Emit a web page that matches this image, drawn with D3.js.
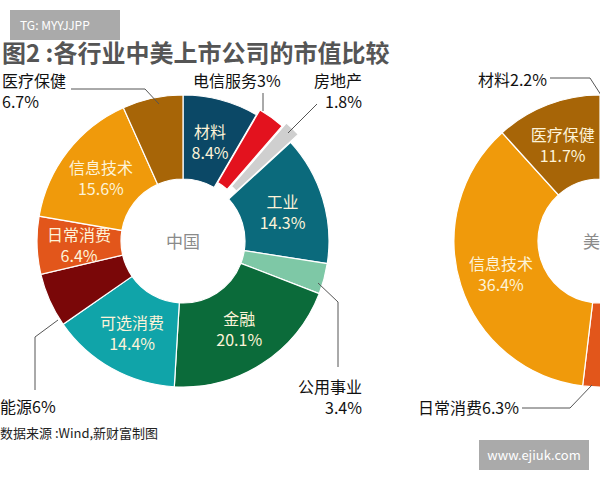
<!DOCTYPE html>
<html><head><meta charset="utf-8">
<script src="https://cdn.jsdelivr.net/npm/d3@7"></script>
<style>body{margin:0;background:#fff}text{font-family:"Noto Sans CJK SC","Noto Sans",sans-serif}</style>
</head><body>
<script>
// China sectors, clockwise from top
const cnSectors = ["材料","电信服务","房地产","工业","公用事业","金融","可选消费","能源","日常消费","信息技术","医疗保健"];
const cnValues  = [8.4, 3, 1.8, 14.3, 3.4, 20.1, 14.4, 6, 6.4, 15.6, 6.7];
const cnColors  = ["#0b4866","#e3121e","#cfcfcf","#0b6a7c","#7ec8a6","#0b6b3a","#10a4a9","#7a0708","#e2561b","#f09a0b","#a76507"];
const cnExplode = [0, 6, 11, 0, 0, 0, 0, 0, 0, 0, 0];
const cnInside  = [true, false, false, true, false, true, true, false, true, true, false];
// US sectors visible in the crop, clockwise starting at bottom-left
const usSectors = ["日常消费","信息技术","医疗保健"];
const usValues  = [6.3, 36.4, 11.7];
const usColors  = ["#e2561b","#f09a0b","#a76507"];
const usInside  = [false, true, true];

const W = 600, H = 480, rIn = 62, rOut = 146;
const svg = d3.select("body").append("svg").attr("width", W).attr("height", H);
const arc = d3.arc().innerRadius(rIn).outerRadius(rOut);
const labelArc = d3.arc().innerRadius(rIn + 42).outerRadius(rIn + 42);

function donut(cx, cy, names, values, colors, start, explode, inside, center) {
  const tot = d3.sum(values);
  const span = 2 * Math.PI * tot / 100;
  const pie = d3.pie().sort(null).value(d => d).startAngle(start).endAngle(start + span);
  const arcs = pie(values);
  const g = svg.append("g").attr("transform", `translate(${cx},${cy})`);
  g.selectAll("path").data(arcs).join("path")
    .attr("d", arc)
    .attr("fill", (d, i) => colors[i])
    .attr("stroke", "#fff").attr("stroke-width", 1.2)
    .attr("transform", (d, i) => {
      const off = explode ? explode[i] : 0, a = (d.startAngle + d.endAngle) / 2;
      return `translate(${off * Math.sin(a)},${-off * Math.cos(a)})`;
    });
  arcs.forEach((d, i) => {
    if (inside && !inside[i]) return;
    const [x, y] = labelArc.centroid(d);
    const t = g.append("text").attr("text-anchor", "middle").attr("fill", "#fdf3d8").attr("font-size", 16);
    t.append("tspan").attr("x", x).attr("y", y - 3).text(names[i]);
    t.append("tspan").attr("x", x).attr("y", y + 18).text(values[i] + "%");
  });
  g.append("text").attr("text-anchor", "middle").attr("y", 7).attr("fill", "#8a8a8a").attr("font-size", 17).text(center);
}

donut(183, 241, cnSectors, cnValues, cnColors, 0, cnExplode, cnInside, "中国");
donut(600, 241, usSectors, usValues, usColors, -2 * Math.PI * d3.sum(usValues) / 100, null, usInside, "美国");

// outside labels and leaders
const outside = [
  {lines: ["医疗保健", "6.7%"], x: 2, y: 87, anchor: "start", path: [[71,89],[145,89],[159,104]]},
  {lines: ["电信服务3%"], x: 193, y: 87, anchor: "start", path: [[263,93],[263,111]]},
  {lines: ["房地产", "1.8%"], x: 362, y: 87, anchor: "end", path: [[317,104],[288,133]]},
  {lines: ["公用事业", "3.4%"], x: 362, y: 393, anchor: "end", path: [[338,367],[338,302],[318,283]]},
  {lines: ["能源6%"], x: 0, y: 413, anchor: "start", path: [[35,390],[35,337],[58,320]]},
  {lines: ["材料2.2%"], x: 478, y: 86, anchor: "start", path: [[550,78],[590,78],[601,95]]},
  {lines: ["日常消费6.3%"], x: 418, y: 414, anchor: "start", path: [[522,408],[570,408],[592,385]]}
];
outside.forEach(o => {
  svg.append("path").attr("d", d3.line()(o.path)).attr("fill", "none").attr("stroke", "#555").attr("stroke-width", 1);
  const t = svg.append("text").attr("text-anchor", o.anchor).attr("font-size", 16).attr("fill", "#111");
  o.lines.forEach((l, i) => t.append("tspan").attr("x", o.x).attr("y", o.y + i * 21).text(l));
});

svg.append("text").attr("x", 2).attr("y", 62).attr("font-size", 24).attr("font-weight", "bold").attr("fill", "#555")
  .text("图2 :各行业中美上市公司的市值比较");
svg.append("text").attr("x", 0).attr("y", 438).attr("font-size", 13).attr("fill", "#222").text("数据来源 :Wind,新财富制图");

// watermarks
svg.append("rect").attr("x", 10).attr("y", 10).attr("width", 110).attr("height", 30).attr("fill", "#aaa");
svg.append("text").attr("x", 20).attr("y", 30).attr("font-size", 12).attr("fill", "#fff").attr("font-family", "Roboto").text("TG: MYYJJPP");
svg.append("rect").attr("x", 479).attr("y", 440).attr("width", 110).attr("height", 30).attr("fill", "#aaa");
svg.append("text").attr("x", 534).attr("y", 460).attr("text-anchor", "middle").attr("font-size", 13).attr("fill", "#fff").text("www.ejiuk.com");
</script>
</body></html>
